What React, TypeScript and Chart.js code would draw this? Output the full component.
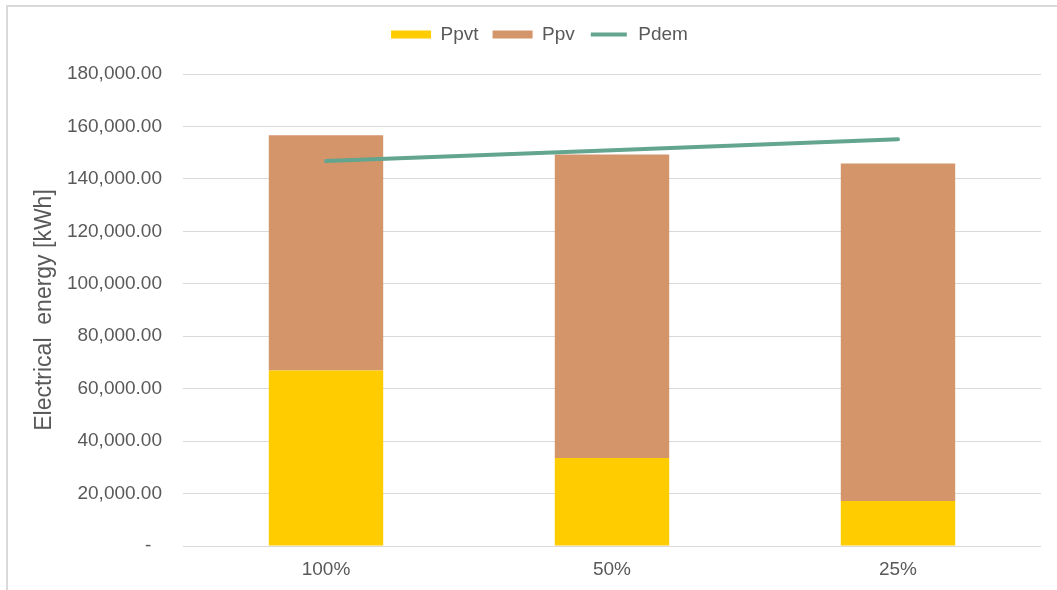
import React, { useEffect, useRef } from "react";
import { Chart, registerables } from "chart.js";

Chart.register(...registerables);

const categories = ["100%", "50%", "25%"];
const ppvt = [66900, 33600, 17200];
const ppv = [89700, 115700, 128700];
const pdem = [146800, 150900, 155100];
const yTicks = [0, 20000, 40000, 60000, 80000, 100000, 120000, 140000, 160000, 180000];

const FONT = "'Liberation Sans', Arial, sans-serif";
const TEXT = "#595959";

// Extra room below the legend row, and a small shift of the legend to the right
const legendSpacer = {
  id: "legendSpacer",
  afterInit(chart: any) {
    const legend = chart.legend;
    if (!legend || legend.__spaced) return;
    const fit = legend.fit.bind(legend);
    legend.fit = function () {
      fit();
      this.height += 20;
    };
    legend.__spaced = true;
  },
  afterLayout(chart: any) {
    const legend = chart.legend;
    if (!legend) return;
    legend.left += 19;
    legend.right += 19;
  },
};

export default function App() {
  const ref = useRef<HTMLCanvasElement | null>(null);

  useEffect(() => {
    if (!ref.current) return;
    const chart = new Chart(ref.current, {
      type: "bar",
      data: {
        labels: categories,
        datasets: [
          {
            type: "line",
            label: "Pdem",
            data: pdem,
            borderColor: "#63a58e",
            backgroundColor: "#63a58e",
            borderWidth: 4,
            borderCapStyle: "round",
            pointRadius: 0,
            tension: 0,
            order: 0,
          } as any,
          {
            label: "Ppvt",
            data: ppvt,
            backgroundColor: "#FFCC00",
            borderWidth: 0,
            barPercentage: 0.8,
            categoryPercentage: 0.5,
            order: 1,
          },
          {
            label: "Ppv",
            data: ppv,
            backgroundColor: "#D4956A",
            borderWidth: 0,
            barPercentage: 0.8,
            categoryPercentage: 0.5,
            order: 1,
          },
        ],
      },
      options: {
        responsive: false,
        animation: false,
        layout: { padding: { top: 11, right: 16, bottom: 0, left: 0 } },
        plugins: {
          tooltip: { enabled: false },
          legend: {
            position: "top",
            labels: {
              font: { family: FONT, size: 19 },
              color: TEXT,
              boxWidth: 40,
              boxHeight: 8,
              padding: 14,
              sort: (a: any, b: any) => {
                const order = ["Ppvt", "Ppv", "Pdem"];
                return order.indexOf(a.text) - order.indexOf(b.text);
              },
              generateLabels: (c: any) => {
                const items = Chart.defaults.plugins.legend.labels.generateLabels(c);
                return items.map((it: any) => {
                  if (it.text === "Pdem") {
                    return {
                      ...it,
                      fillStyle: "#63a58e",
                      strokeStyle: "#ffffff",
                      lineWidth: 4,
                      lineCap: "butt",
                      lineDash: [],
                    };
                  }
                  return { ...it, lineWidth: 0 };
                });
              },
            },
          },
        },
        scales: {
          x: {
            stacked: true,
            grid: { display: false },
            border: { display: false },
            ticks: {
              font: { family: FONT, size: 19 },
              color: TEXT,
              padding: 4,
            },
            afterFit: (s: any) => {
              s.height = 44;
            },
          },
          y: {
            stacked: true,
            min: 0,
            max: 180000,
            afterBuildTicks: (s: any) => {
              s.ticks = yTicks.map((v) => ({ value: v }));
            },
            grid: { color: "#d9d9d9", lineWidth: 1, drawTicks: false },
            border: { display: false },
            ticks: {
              font: { family: FONT, size: 19 },
              color: TEXT,
              padding: 21,
              callback: (v: any) =>
                Number(v) === 0
                  ? "-  "
                  : Number(v).toLocaleString("en-US", {
                      minimumFractionDigits: 2,
                      maximumFractionDigits: 2,
                    }),
            },
            title: {
              display: true,
              text: "Electrical  energy [kWh]",
              font: { family: FONT, size: 23 },
              color: TEXT,
              padding: { top: 31, bottom: 0 },
            },
            afterFit: (s: any) => {
              s.width = 183;
            },
          },
        },
      },
      plugins: [legendSpacer],
    });
    return () => chart.destroy();
  }, []);

  return (
    <div style={{ position: "fixed", left: 0, top: 0, width: 1057, height: 590, background: "#fff" }}>
      <div
        style={{
          position: "absolute",
          left: 6,
          top: 5,
          width: 1060,
          height: 600,
          borderLeft: "2px solid #d9d9d9",
          borderTop: "2px solid #d9d9d9",
          boxSizing: "border-box",
        }}
      />
      <canvas ref={ref} width={1057} height={590} style={{ position: "absolute", left: 0, top: 0 }} />
    </div>
  );
}
